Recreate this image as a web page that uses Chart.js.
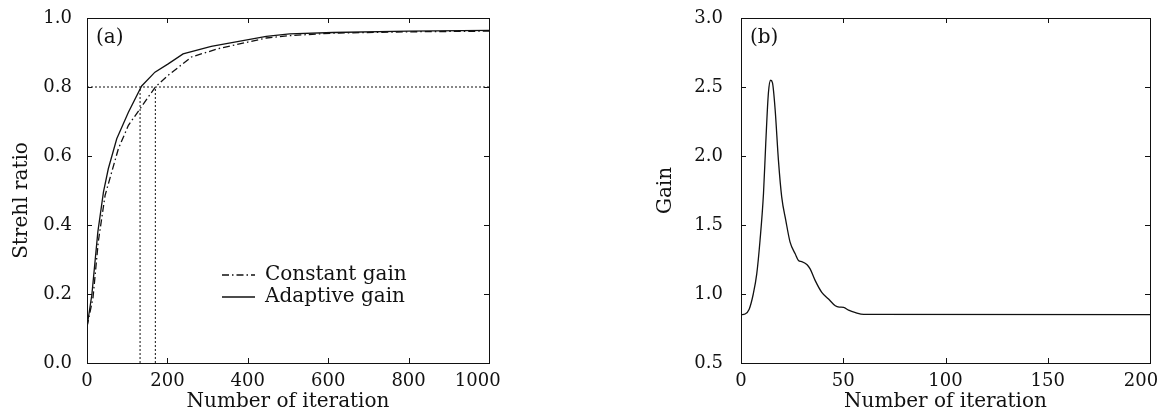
<!DOCTYPE html>
<html>
<head>
<meta charset="utf-8">
<script src="https://cdn.jsdelivr.net/npm/chart.js@4.4.0/dist/chart.umd.min.js"></script>
<style>
  body { margin: 0; background: #fff; width: 1164px; height: 414px; position: relative; overflow: hidden; }
  #boxA { position: absolute; left: 0; top: 0; }
  #boxB { position: absolute; left: 556px; top: 0; }
</style>
</head>
<body>
<div id="boxA"><canvas id="chartA" width="540" height="414"></canvas></div>
<div id="boxB"><canvas id="chartB" width="608" height="414"></canvas></div>
<script>
// (a) Strehl ratio vs iteration
const iterConst = [0, 15, 28, 45, 78, 103, 132, 170, 202, 260, 326, 446, 504, 612, 800, 1000];
const strehlConst = [0.105, 0.19, 0.351, 0.486, 0.621, 0.689, 0.737, 0.8, 0.834, 0.887, 0.911, 0.942, 0.949, 0.956, 0.96, 0.962];
const iterAdapt = [0, 12, 27, 41, 53, 74, 103, 136, 169, 202, 239, 309, 446, 504, 612, 800, 1000];
const strehlAdapt = [0.105, 0.197, 0.38, 0.496, 0.563, 0.65, 0.727, 0.803, 0.843, 0.867, 0.896, 0.918, 0.947, 0.954, 0.958, 0.962, 0.964];
const thresholdA = 0.8;
const crossIters = [132, 170];

// (b) adaptive gain vs iteration
const iterGain = [0, 2, 4, 6, 7.7, 9.3, 11, 12.1, 13.4, 14.5, 15.4, 16.7, 18.3, 19.9, 21.9, 24, 26.5, 28.1, 29.7, 32.2, 33.8, 36.3, 39.5, 42.8, 46.1, 48, 50.2, 52.6, 56, 60, 200];
const gainVals = [0.85, 0.855, 0.89, 1.0, 1.146, 1.388, 1.728, 2.09, 2.456, 2.549, 2.53, 2.335, 1.97, 1.704, 1.534, 1.376, 1.291, 1.243, 1.235, 1.214, 1.182, 1.097, 1.012, 0.964, 0.915, 0.905, 0.903, 0.883, 0.865, 0.852, 0.85];

const pts = (xs, ys) => xs.map((x, i) => ({ x: x, y: ys[i] }));
const FONT = "'DejaVu Serif', serif";
const INK = '#111';

// box round the plot with inward ticks on all four sides
const frameTicks = {
  id: 'frameTicks',
  afterDatasetsDraw(chart) {
    const { ctx, chartArea: a, scales: { x, y } } = chart;
    ctx.save();
    ctx.strokeStyle = INK;
    ctx.lineWidth = 1;
    ctx.strokeRect(Math.round(a.left) + 0.5, Math.round(a.top) + 0.5, Math.round(a.right - a.left), Math.round(a.bottom - a.top));
    ctx.beginPath();
    x.ticks.forEach(t => {
      const px = Math.round(x.getPixelForValue(t.value)) + 0.5;
      ctx.moveTo(px, a.bottom); ctx.lineTo(px, a.bottom - 5);
      ctx.moveTo(px, a.top); ctx.lineTo(px, a.top + 5);
    });
    y.ticks.forEach(t => {
      const py = Math.round(y.getPixelForValue(t.value)) + 0.5;
      ctx.moveTo(a.left, py); ctx.lineTo(a.left + 5, py);
      ctx.moveTo(a.right, py); ctx.lineTo(a.right - 5, py);
    });
    ctx.stroke();
    ctx.restore();
  }
};

// panel tag and legend drawn inside the plot
const innerText = {
  id: 'innerText',
  afterDraw(chart, args, opts) {
    const { ctx, chartArea: a } = chart;
    ctx.save();
    ctx.fillStyle = INK;
    ctx.textBaseline = 'middle';
    ctx.font = '20px ' + FONT;
    ctx.fillText(opts.tag, a.left + 9, a.top + 20);
    if (opts.legend) {
      chart.data.datasets.forEach(ds => {
        if (ds.legendRow === undefined) return;
        const ly = opts.legend.y + ds.legendRow * 22;
        ctx.strokeStyle = ds.borderColor;
        ctx.lineWidth = ds.borderWidth;
        ctx.setLineDash(ds.borderDash || []);
        ctx.beginPath();
        ctx.moveTo(opts.legend.x, ly);
        ctx.lineTo(opts.legend.x + 33, ly);
        ctx.stroke();
        ctx.fillText(ds.label, opts.legend.x + 43, ly);
      });
    }
    ctx.restore();
  }
};

function axis(min, max, step, title, extra) {
  return Object.assign({
    type: 'linear', min: min, max: max,
    grid: { display: false },
    border: { display: false },
    ticks: {
      stepSize: step, color: INK, font: { family: FONT, size: 18 },
      callback: v => step < 1 ? v.toFixed(1) : String(v)
    },
    title: { display: true, text: title, color: INK, font: { family: FONT, size: 20 } }
  }, extra);
}

const lineStyle = { borderColor: INK, borderWidth: 1.3, pointRadius: 0, fill: false };
const dotted = { borderColor: INK, borderWidth: 1, borderDash: [2, 2], pointRadius: 0, fill: false };

new Chart(document.getElementById('chartA'), {
  type: 'line',
  data: {
    datasets: [
      Object.assign({ label: 'Constant gain', data: pts(iterConst, strehlConst), borderDash: [7, 3, 1.5, 3], legendRow: 0 }, lineStyle),
      Object.assign({ label: 'Adaptive gain', data: pts(iterAdapt, strehlAdapt), legendRow: 1 }, lineStyle),
      Object.assign({ label: 'ref', data: [{ x: 0, y: thresholdA }, { x: 1000, y: thresholdA }] }, dotted),
      Object.assign({ label: 'ref1', data: [{ x: crossIters[0], y: 0 }, { x: crossIters[0], y: thresholdA }] }, dotted),
      Object.assign({ label: 'ref2', data: [{ x: crossIters[1], y: 0 }, { x: crossIters[1], y: thresholdA }] }, dotted)
    ]
  },
  options: {
    responsive: false,
    animation: false,
    layout: { padding: { left: 0, right: 51, top: 18, bottom: 0 } },
    scales: {
      x: axis(0, 1000, 200, 'Number of iteration', {
        afterFit: s => { s.height = 51; s.paddingLeft = 0; s.paddingRight = 0; }
      }),
      y: axis(0, 1, 0.2, 'Strehl ratio\u2003', {
        afterFit: s => { s.width = 87; s.paddingTop = 0; s.paddingBottom = 0; }
      })
    },
    plugins: {
      legend: { display: false },
      tooltip: { enabled: false },
      innerText: { tag: '(a)', legend: { x: 222, y: 275 } }
    }
  },
  plugins: [frameTicks, innerText]
});
(function () {
  const c = Chart.getChart('chartA');
  c.options.scales.y.ticks.padding = 7;
  c.options.scales.y.title.padding = 10;
  c.options.scales.x.ticks.padding = 0;
  // last x label sits a little left of the right edge, as in the source figure
  c.options.scales.x.ticks.callback = v => v === 1000 ? '1000\u2003\u2005' : String(v);
  c.options.scales.x.title.padding = 0;
  c.update();
})();

new Chart(document.getElementById('chartB'), {
  type: 'line',
  data: {
    datasets: [
      Object.assign({ label: 'Gain', data: pts(iterGain, gainVals), cubicInterpolationMode: 'monotone' }, lineStyle)
    ]
  },
  options: {
    responsive: false,
    animation: false,
    layout: { padding: { left: 0, right: 14, top: 18, bottom: 0 } },
    scales: {
      x: axis(0, 200, 50, 'Number of iteration', {
        afterFit: s => { s.height = 51; s.paddingLeft = 0; s.paddingRight = 0; }
      }),
      y: axis(0.5, 3, 0.5, 'Gain', {
        afterFit: s => { s.width = 185; s.paddingTop = 0; s.paddingBottom = 0; }
      })
    },
    plugins: {
      legend: { display: false },
      tooltip: { enabled: false },
      innerText: { tag: '(b)' }
    }
  },
  plugins: [frameTicks, innerText]
});
(function () {
  const c = Chart.getChart('chartB');
  c.options.scales.y.ticks.padding = 10;
  c.options.scales.y.title.padding = 98;
  c.options.scales.x.ticks.padding = 0;
  c.options.scales.x.ticks.callback = v => v === 200 ? '200\u2003' : String(v);
  c.options.scales.x.title.padding = 0;
  c.update();
})();
</script>
</body>
</html>
